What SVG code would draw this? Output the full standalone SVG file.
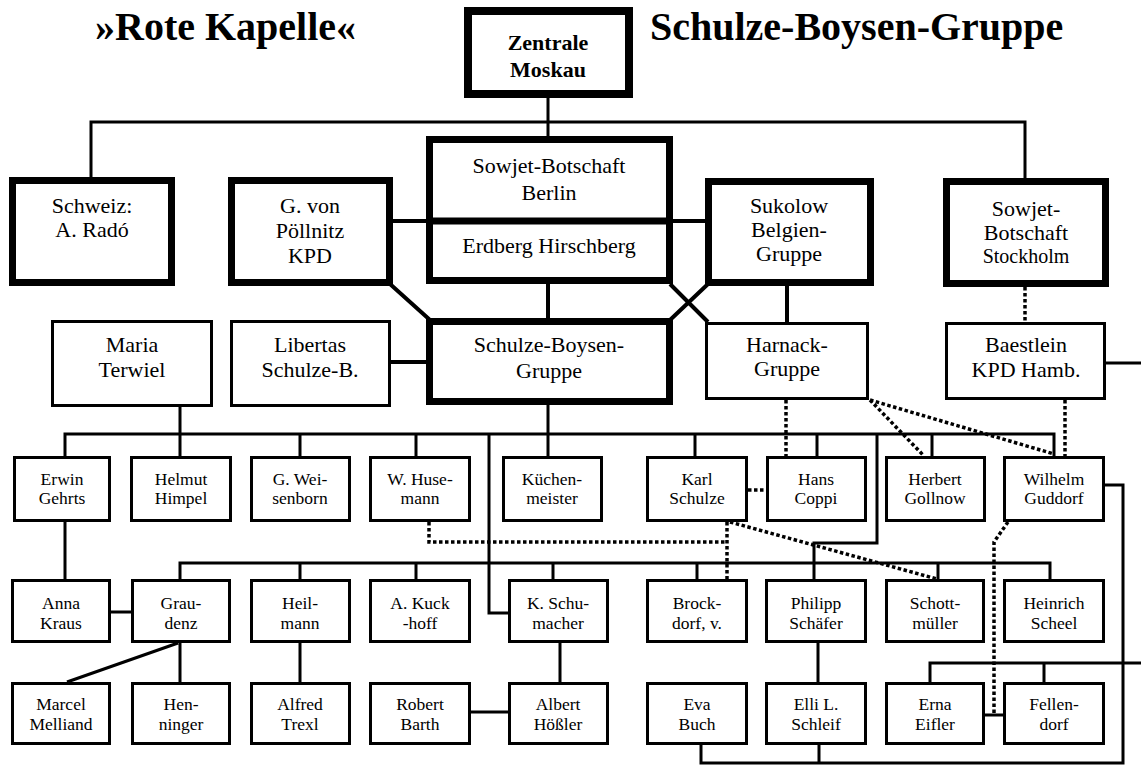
<svg xmlns="http://www.w3.org/2000/svg" width="1141" height="765" viewBox="0 0 1141 765">
<style>
.bg{fill:#fff}
.thick{fill:#fff;stroke:#000;stroke-width:7}
.thin{fill:#fff;stroke:#000;stroke-width:3}
.ln{fill:none;stroke:#000;stroke-width:3}
.lnw{fill:none;stroke:#000;stroke-width:4}
.dot{fill:none;stroke:#000;stroke-width:3.5;stroke-dasharray:3.5 2.5}
text{font-family:"Liberation Serif","Times New Roman",serif;fill:#000;text-anchor:middle}
.title{font-size:40px;font-weight:bold;text-anchor:start}
.zb{font-size:22px;font-weight:bold}
.l{font-size:22px}
.s{font-size:17.5px}
</style>
<rect class="bg" x="0" y="0" width="1141" height="765"/>
<text class="title" x="95" y="40">»Rote Kapelle«</text>
<text class="title" x="650" y="40">Schulze-Boysen-Gruppe</text>

<g id="connectors">
<path class="ln" d="M548,98V136M91,177V122H1025V178"/>
<path class="lnw" d="M393,221H426M673,221H705M548,284V318M390,284L430,320M670,284L708,322M670,320L708,284M787,286V322M391,362H426"/>
<path class="ln" d="M1106,363H1141M180,407V456M548,405V456"/>
<path class="ln" d="M65,456V434H1054V456M300,434V456M416,434V456M695,434V456M817,434V456M932,434V456"/>
<path class="ln" d="M489,434V613H508M877,434V543H814V579"/>
<path class="ln" d="M180,579V563H1050V579M300,563V579M416,563V579M553,563V579M697,563V579M938,563V579"/>
<path class="ln" d="M65,522V579M111,612H131M180,643V682M178,643L67,682M300,643V682M560,643V682M471,712H508M818,643V682"/>
<path class="ln" d="M1105,485H1123V763H701V745M819,745V763M1141,663H930V682M1044,663V682M985,715H1003"/>
<path class="dot" d="M1025,287V322M786,400V456M870,400L924,456M870,400L1054,454M1065,400V456M748,490H766M727,522V579M429,522V542H727M730,522L937,579M1008,522L994,542V714"/>
</g>

<g id="zentrale"><rect x="468" y="11" width="161" height="83" fill="#fff" stroke="#000" stroke-width="8"/><text class="zb" x="548" y="50">Zentrale</text><text class="zb" x="548" y="77">Moskau</text></g>
<g id="schweiz"><rect class="thick" x="12.5" y="180.5" width="159" height="102"/><text class="l" x="92" y="213">Schweiz:</text><text class="l" x="92" y="237">A. Radó</text></g>
<g id="poellnitz"><rect class="thick" x="231.5" y="180.5" width="158" height="102"/><text class="l" x="310" y="213">G. von</text><text class="l" x="310" y="238">Pöllnitz</text><text class="l" x="310" y="263">KPD</text></g>
<g id="sowjet-berlin"><rect class="thick" x="429.5" y="139.5" width="240" height="141"/><path class="lnw" d="M429.5,221H669.5" style="stroke-width:7"/><text class="l" x="549" y="173">Sowjet-Botschaft</text><text class="l" x="549" y="200">Berlin</text><text class="l" x="549" y="253">Erdberg Hirschberg</text></g>
<g id="sukolow"><rect class="thick" x="708.5" y="181.5" width="162" height="101"/><text class="l" x="789" y="213">Sukolow</text><text class="l" x="789" y="237">Belgien-</text><text class="l" x="789" y="261">Gruppe</text></g>
<g id="stockholm"><rect class="thick" x="946.5" y="181.5" width="159" height="102"/><text class="l" x="1026" y="216">Sowjet-</text><text class="l" x="1026" y="240">Botschaft</text><text class="l" x="1026" y="263" style="font-size:20px">Stockholm</text></g>

<g id="maria"><rect class="thin" x="52.5" y="321.5" width="159" height="84"/><text class="l" x="132" y="352">Maria</text><text class="l" x="132" y="377">Terwiel</text></g>
<g id="libertas"><rect class="thin" x="231.5" y="321.5" width="158" height="84"/><text class="l" x="310" y="352">Libertas</text><text class="l" x="310" y="377">Schulze-B.</text></g>
<g id="sbg"><rect class="thick" x="429.5" y="321.5" width="240" height="80"/><text class="l" x="549" y="352">Schulze-Boysen-</text><text class="l" x="549" y="378">Gruppe</text></g>
<g id="harnack"><rect class="thin" x="706.5" y="323.5" width="161" height="75"/><text class="l" x="787" y="352">Harnack-</text><text class="l" x="787" y="376">Gruppe</text></g>
<g id="baestlein"><rect class="thin" x="946.5" y="323.5" width="158" height="75"/><text class="l" x="1026" y="352">Baestlein</text><text class="l" x="1026" y="377">KPD Hamb.</text></g>

<g id="gehrts"><rect class="thin" x="14.5" y="457.5" width="95" height="63"/><text class="s" x="62" y="485">Erwin</text><text class="s" x="62" y="504">Gehrts</text></g>
<g id="himpel"><rect class="thin" x="131.5" y="457.5" width="99" height="63"/><text class="s" x="181" y="485">Helmut</text><text class="s" x="181" y="504">Himpel</text></g>
<g id="weisenborn"><rect class="thin" x="251.5" y="457.5" width="98" height="63"/><text class="s" x="300" y="485">G. Wei-</text><text class="s" x="300" y="504">senborn</text></g>
<g id="husemann"><rect class="thin" x="370.5" y="457.5" width="99" height="63"/><text class="s" x="420" y="485">W. Huse-</text><text class="s" x="420" y="504">mann</text></g>
<g id="kuechenmeister"><rect class="thin" x="503.5" y="457.5" width="98" height="63"/><text class="s" x="552" y="485">Küchen-</text><text class="s" x="552" y="504">meister</text></g>
<g id="karl-schulze"><rect class="thin" x="647.5" y="457.5" width="99" height="63"/><text class="s" x="697" y="485">Karl</text><text class="s" x="697" y="504">Schulze</text></g>
<g id="coppi"><rect class="thin" x="767.5" y="457.5" width="98" height="63"/><text class="s" x="816" y="485">Hans</text><text class="s" x="816" y="504">Coppi</text></g>
<g id="gollnow"><rect class="thin" x="886.5" y="457.5" width="98" height="63"/><text class="s" x="935" y="485">Herbert</text><text class="s" x="935" y="504">Gollnow</text></g>
<g id="guddorf"><rect class="thin" x="1004.5" y="457.5" width="99" height="63"/><text class="s" x="1054" y="485">Wilhelm</text><text class="s" x="1054" y="504">Guddorf</text></g>

<g id="kraus"><rect class="thin" x="12.5" y="580.5" width="97" height="61"/><text class="s" x="61" y="609">Anna</text><text class="s" x="61" y="629">Kraus</text></g>
<g id="graudenz"><rect class="thin" x="132.5" y="580.5" width="97" height="61"/><text class="s" x="181" y="609">Grau-</text><text class="s" x="181" y="629">denz</text></g>
<g id="heilmann"><rect class="thin" x="251.5" y="580.5" width="98" height="61"/><text class="s" x="300" y="609">Heil-</text><text class="s" x="300" y="629">mann</text></g>
<g id="kuckhoff"><rect class="thin" x="370.5" y="580.5" width="99" height="61"/><text class="s" x="420" y="609">A. Kuck</text><text class="s" x="420" y="629">-hoff</text></g>
<g id="schumacher"><rect class="thin" x="509.5" y="580.5" width="98" height="61"/><text class="s" x="558" y="609">K. Schu-</text><text class="s" x="558" y="629">macher</text></g>
<g id="brockdorf"><rect class="thin" x="647.5" y="580.5" width="99" height="61"/><text class="s" x="697" y="609">Brock-</text><text class="s" x="697" y="629">dorf, v.</text></g>
<g id="schaefer"><rect class="thin" x="766.5" y="580.5" width="99" height="61"/><text class="s" x="816" y="609">Philipp</text><text class="s" x="816" y="629">Schäfer</text></g>
<g id="schottmueller"><rect class="thin" x="886.5" y="580.5" width="97" height="61"/><text class="s" x="935" y="609">Schott-</text><text class="s" x="935" y="629">müller</text></g>
<g id="scheel"><rect class="thin" x="1004.5" y="580.5" width="99" height="61"/><text class="s" x="1054" y="609">Heinrich</text><text class="s" x="1054" y="629">Scheel</text></g>

<g id="melliand"><rect class="thin" x="12.5" y="683.5" width="97" height="60"/><text class="s" x="61" y="710">Marcel</text><text class="s" x="61" y="730">Melliand</text></g>
<g id="henninger"><rect class="thin" x="132.5" y="683.5" width="97" height="60"/><text class="s" x="181" y="710">Hen-</text><text class="s" x="181" y="730">ninger</text></g>
<g id="trexl"><rect class="thin" x="251.5" y="683.5" width="98" height="60"/><text class="s" x="300" y="710">Alfred</text><text class="s" x="300" y="730">Trexl</text></g>
<g id="barth"><rect class="thin" x="370.5" y="683.5" width="99" height="60"/><text class="s" x="420" y="710">Robert</text><text class="s" x="420" y="730">Barth</text></g>
<g id="hoessler"><rect class="thin" x="509.5" y="683.5" width="98" height="60"/><text class="s" x="558" y="710">Albert</text><text class="s" x="558" y="730">Hößler</text></g>
<g id="buch"><rect class="thin" x="647.5" y="683.5" width="99" height="60"/><text class="s" x="697" y="710">Eva</text><text class="s" x="697" y="730">Buch</text></g>
<g id="schleif"><rect class="thin" x="766.5" y="683.5" width="99" height="60"/><text class="s" x="816" y="710">Elli L.</text><text class="s" x="816" y="730">Schleif</text></g>
<g id="eifler"><rect class="thin" x="886.5" y="683.5" width="97" height="60"/><text class="s" x="935" y="710">Erna</text><text class="s" x="935" y="730">Eifler</text></g>
<g id="fellendorf"><rect class="thin" x="1004.5" y="683.5" width="99" height="60"/><text class="s" x="1054" y="710">Fellen-</text><text class="s" x="1054" y="730">dorf</text></g>
</svg>
